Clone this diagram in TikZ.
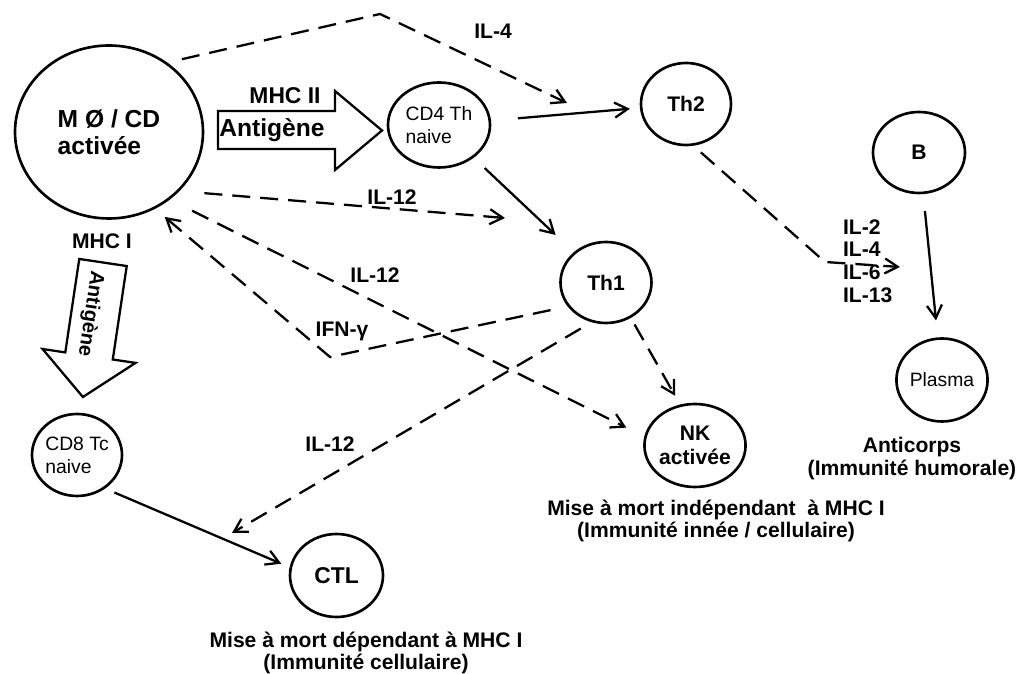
\documentclass[tikz,border=0pt]{standalone}
\usepackage{fontspec}
\setmainfont{Liberation Sans}
\usetikzlibrary{arrows.meta,shapes.geometric}

\tikzset{
	cell/.style={ellipse, draw, line width=1.5pt, inner sep=0pt, minimum width=1.8cm, minimum height=1.64cm, align=center, font=\bfseries\fontsize{12}{13.5}\selectfont},
	naive/.style={cell, align=left, font=\fontsize{11}{13}\selectfont},
	link/.style={line width=1.3pt, -{Straight Barb[length=2.6mm,width=3mm]}},
	signal/.style={link, dash pattern=on 3.6mm off 2mm},
	lab/.style={inner sep=1pt, font=\bfseries\fontsize{12}{12.8}\selectfont},
	block/.style={draw, line width=1.3pt, line join=miter},
}

\begin{document}
\begin{tikzpicture}
	\useasboundingbox (0,0) rectangle (20.58,13.48);

	\node[cell, minimum width=3.76cm, minimum height=3.46cm, align=left, font=\bfseries\fontsize{14}{15.5}\selectfont] (mo) at (2.18,10.84) {M Ø / CD\\activée};
	\node[naive, minimum width=2.04cm, minimum height=1.7cm] (cd4) at (8.78,10.98) {CD4 Th\\naive};
	\node[cell] (th2) at (13.72,11.40) {Th2};
	\node[cell, minimum width=1.84cm, minimum height=1.62cm] (b) at (18.38,10.43) {B};
	\node[cell, minimum width=1.82cm, minimum height=1.62cm] (th1) at (12.12,7.83) {Th1};
	\node[naive, align=center, minimum width=1.82cm, minimum height=1.66cm] (plasma) at (18.84,5.88) {Plasma};
	\node[cell, minimum height=1.66cm] (nk) at (13.90,4.57) {NK\\activée};
	\node[naive] (cd8) at (1.54,4.38) {CD8 Tc\\naive};
	\node[cell, minimum width=1.86cm, minimum height=1.66cm, font=\bfseries\fontsize{13}{14}\selectfont] (ctl) at (6.73,1.97) {CTL};

	\draw[block] (4.36,10.50) -- (6.70,10.50) -- (6.70,10.08) -- (7.64,10.87) -- (6.70,11.66) -- (6.70,11.26) -- (4.36,11.26) -- cycle;
	\node[lab, font=\bfseries\fontsize{13}{14}\selectfont] (mhc2) at (5.70,11.56) {MHC II};
	\node[lab, font=\bfseries\fontsize{14}{15}\selectfont] (ag2) at (5.44,10.88) {Antigène};

	\node[lab] (mhc1) at (2.04,8.66) {MHC I};
	\begin{scope}[shift={(2.06,8.23)}, rotate=-98.5]
		\draw[block] (0,-0.48) -- (1.89,-0.48) -- (1.89,-0.94) -- (2.72,0) -- (1.89,0.94) -- (1.89,0.48) -- (0,0.48) -- cycle;
		\node[lab, rotate=-98.5, font=\bfseries\fontsize{11.5}{12}\selectfont] (ag1) at (1.05,-0.1) {Antigène};
	\end{scope}

	\coordinate (il4bend) at (7.60,13.20);
	\coordinate (il4tip) at (11.34,11.42);
	\coordinate (il12tip) at (10.10,9.12);
	\coordinate (ifnbend) at (6.60,6.34);
	\coordinate (ctltip) at (4.64,2.82);
	\coordinate (th2bend) at (16.50,8.24);
	\coordinate (th2tip) at (18.00,8.14);

	\draw[signal, shorten <=0.3cm] (mo.50) -- (il4bend) -- (il4tip);
	\draw[signal, shorten <=0.5cm] (mo.-40) -- (il12tip);
	\draw[signal, shorten <=0.5cm, shorten >=0.4cm] (mo.-48) -- (nk.170);
	\draw[signal, shorten <=0.35cm, shorten >=0.25cm] (th1.212) -- (ifnbend) -- (mo.-59);
	\draw[signal, shorten <=0.25cm] (th1.250) -- (ctltip);
	\draw[signal, shorten <=0.15cm, shorten >=0.2cm] (th1.-55) -- (nk.110);
	\draw[signal, shorten <=0.2cm] (th2.-80) -- (th2bend) -- (th2tip);

	\draw[link, shorten <=0.54cm, shorten >=0.2cm] (cd4) -- (th2);
	\draw[link, shorten <=0.3cm, shorten >=0.5cm] (cd4) -- (th1);
	\draw[link, shorten <=0.34cm, shorten >=0.34cm] (b) -- (plasma);
	\draw[link, shorten <=0.2cm, shorten >=0.18cm] (cd8.-50) -- (ctl.170);

	\node[lab] (il4) at (9.86,12.86) {IL-4};
	\node[lab] (il12a) at (7.84,9.54) {IL-12};
	\node[lab] (il12b) at (7.50,7.98) {IL-12};
	\node[lab] (ifn) at (6.84,6.86) {IFN-γ};
	\node[lab] (il12c) at (6.60,4.60) {IL-12};
	\node[lab, align=left, anchor=west, font=\bfseries\fontsize{12}{12.9}\selectfont] (ils) at (16.82,8.26) {IL-2\\IL-4\\IL-6\\IL-13};

	\node[lab, align=center] (ctlcap) at (7.32,0.42) {Mise à mort dépendant à MHC I\\(Immunité cellulaire)};
	\node[lab, align=center] (nkcap) at (14.32,3.06) {Mise à mort indépendant\ \ à MHC I\\(Immunité innée / cellulaire)};
	\node[lab, align=center] (abcap) at (18.24,4.31) {Anticorps\\(Immunité humorale)};
\end{tikzpicture}
\end{document}
